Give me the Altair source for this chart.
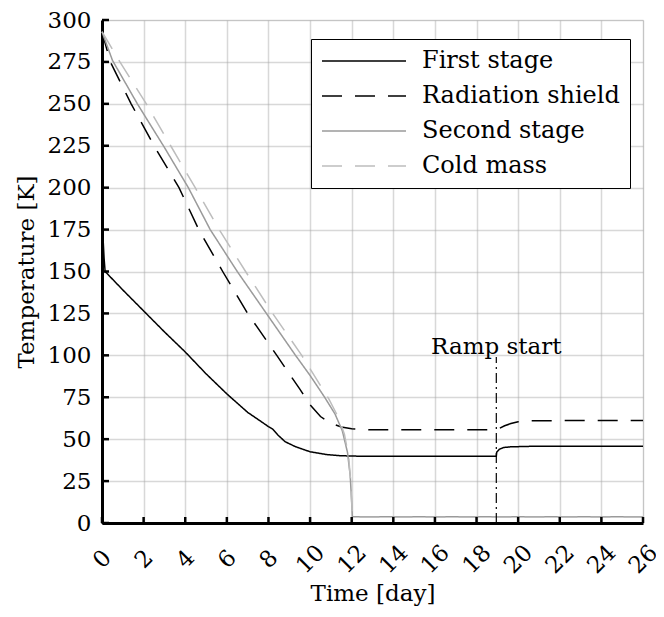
import altair as alt
import pandas as pd

FONT = "DejaVu Serif"
FS = 23
LFS = 24

series_names = ["First stage", "Radiation shield", "Second stage", "Cold mass"]
series_colors = ["#000000", "#000000", "#9a9a9a", "#bdbdbd"]
series_dash = [[1, 0], [20, 13], [1, 0], [20, 13]]

fs_day = [0, 0.02, 0.05, 0.1, 0.15, 1, 2, 3, 4, 5, 6, 7, 8, 8.2, 8.45, 8.8, 9.3, 10, 10.8, 11.5, 12.5,
          18.95, 18.97, 19.1, 19.3, 19.6, 20.5, 26]
fs_temp = [290, 190, 170, 158, 150, 139, 126.5, 114, 102, 89, 77, 66, 57.5, 56, 52.5, 48.5, 45.5, 42.5, 40.8, 40.1, 39.8,
           39.8, 42.3, 44.0, 45.0, 45.4, 45.7, 45.8]

rs_day = [0, 0.4, 1.4, 2.5, 3.7, 4.65, 5.8, 7.0, 8.4, 9.0, 9.5, 10.0, 10.5, 11.0, 11.5, 12.0, 12.8,
          18.95, 19.1, 19.35, 19.65, 20.0, 20.5, 26]
rs_temp = [293, 275, 250, 225, 200, 175, 150, 125, 100, 89, 80, 70.5, 63.5, 59.5, 57.3, 56.2, 55.6,
           55.6, 56.5, 58.0, 59.3, 60.4, 61.0, 61.2]

ss_day = [0, 0.5, 1.7, 3.0, 4.15, 5.2, 6.5, 7.9, 9.3, 10.0, 10.7, 11.2, 11.55, 11.8, 11.93, 12.0, 12.03, 26]
ss_temp = [293, 276, 250, 224, 200, 175, 150, 125, 100, 88, 75, 65, 55, 42, 28, 12, 3.7, 3.7]

cm_day = [0, 0.86, 2.13, 3.3, 4.48, 5.63, 6.9, 8.2, 9.6, 10.3, 10.9, 11.36, 11.65, 11.85, 11.97, 12.03, 26]
cm_temp = [293, 275, 250, 225, 200, 175, 150, 125, 100, 86, 74, 63, 53, 40, 22, 3.5, 3.5]

x_ticks = list(range(0, 27, 2))
y_ticks = list(range(0, 301, 25))

ramp_day = [18.95]
ramp_bottom = [0]
ramp_top = [99]
ramp_label = ["Ramp start"]
ramp_label_temp = [101]

W, H = 541, 503

rows = []
for name, days, temps in [
    (series_names[0], fs_day, fs_temp),
    (series_names[1], rs_day, rs_temp),
    (series_names[2], ss_day, ss_temp),
    (series_names[3], cm_day, cm_temp),
]:
    for i, (d, t) in enumerate(zip(days, temps)):
        rows.append({"series": name, "day": d, "temp": t, "order": i})
df = pd.DataFrame(rows)

xscale = alt.Scale(domain=[0, 26], nice=False, zero=False)
yscale = alt.Scale(domain=[0, 300], nice=False, zero=False)

legend = alt.Legend(
    title=None, orient="none", legendX=209, legendY=19,
    symbolType="M-4,0H4", symbolSize=441, symbolStrokeWidth=1.5,
    symbolOffset=31, labelOffset=46,
    labelFont=FONT, labelFontSize=LFS, labelLimit=400,
    strokeColor="black", fillColor="white", padding=10, rowPadding=11,
)

gridkw = dict(grid=True, gridColor="#a8a8a8", gridOpacity=0.45, gridWidth=1.5)

lines = alt.Chart(df).mark_line(strokeWidth=1.5).encode(
    x=alt.X("day:Q", scale=xscale,
            axis=alt.Axis(values=x_ticks, title="Time [day]", labelAngle=315,
                          labelAlign="center", labelBaseline="middle", labelPadding=36,
                          ticks=False, domainWidth=3, domainColor="black",
                          labelFont=FONT, labelFontSize=FS, labelColor="black",
                          titleFont=FONT, titleFontSize=FS, titleFontWeight="normal",
                          titleColor="black", titlePadding=5, labelOverlap=False, **gridkw)),
    y=alt.Y("temp:Q", scale=yscale,
            axis=alt.Axis(values=y_ticks, title="Temperature [K]",
                          ticks=False, domainWidth=3, domainColor="black", labelPadding=11,
                          labelFont=FONT, labelFontSize=FS, labelColor="black",
                          titleFont=FONT, titleFontSize=FS, titleFontWeight="normal",
                          titleColor="black", titlePadding=9, labelOverlap=False, **gridkw)),
    color=alt.Color("series:N", scale=alt.Scale(domain=series_names, range=series_colors), legend=legend),
    strokeDash=alt.StrokeDash("series:N", scale=alt.Scale(domain=series_names, range=series_dash), legend=legend),
    order="order:Q",
)

xt = pd.DataFrame({"d": x_ticks})
yt = pd.DataFrame({"t": y_ticks})
xtick = alt.Chart(xt).mark_rule(color="black", strokeWidth=2.5).encode(
    x=alt.X("d:Q", scale=xscale), y=alt.value(H), y2=alt.value(H - 6))
ytick = alt.Chart(yt).mark_rule(color="black", strokeWidth=2.5).encode(
    y=alt.Y("t:Q", scale=yscale), x=alt.value(0), x2=alt.value(7))

ramp = pd.DataFrame({"day": ramp_day, "bottom": ramp_bottom, "top": ramp_top,
                     "label": ramp_label, "ly": ramp_label_temp})
ramp_rule = alt.Chart(ramp).mark_rule(color="black", strokeWidth=1.2, strokeDash=[10, 4, 2, 4]).encode(
    x=alt.X("day:Q", scale=xscale), y=alt.Y("bottom:Q", scale=yscale), y2="top:Q")
ramp_text = alt.Chart(ramp).mark_text(font=FONT, fontSize=FS, baseline="alphabetic", align="center",
                                      color="black").encode(
    x=alt.X("day:Q", scale=xscale), y=alt.Y("ly:Q", scale=yscale), text="label:N")

chart = alt.layer(lines, ramp_rule, ramp_text, xtick, ytick).properties(
    width=W, height=H,
    autosize=alt.AutoSizeParams(type="none"),
    padding={"left": 94, "top": 12, "right": 13, "bottom": 86},
).configure_view(stroke=None).configure(background="white")

chart.save("out.html", embed_options={"renderer": "svg", "actions": False})
